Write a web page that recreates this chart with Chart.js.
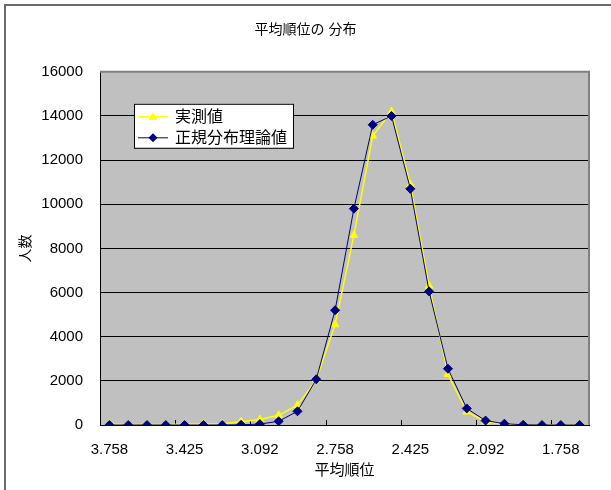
<!DOCTYPE html>
<html>
<head>
<meta charset="utf-8">
<script src="https://cdn.jsdelivr.net/npm/chart.js@4/dist/chart.umd.min.js"></script>
<style>
  html, body { margin: 0; padding: 0; background: #fff; }
  #wrap { width: 611px; height: 490px; }
</style>
</head>
<body>
<div id="wrap"><canvas id="c" width="611" height="490"></canvas></div>
<script>
// Average-rank buckets (category axis, descending)
const categories = ['3.758','3.675','3.592','3.508','3.425','3.342','3.258','3.175','3.092','3.008',
                    '2.925','2.842','2.758','2.675','2.592','2.508','2.425','2.342','2.258','2.175',
                    '2.092','2.008','1.925','1.842','1.758','1.675'];
// Category labels that are printed on the axis
const tickLabels = ['3.758','3.425','3.092','2.758','2.425','2.092','1.758'];

// Observed head counts
const measured = [30, 20, 20, 20, 30, 40, 60, 150, 250, 440, 900, 2050, 4550, 8600, 13100,
                  14200, 10900, 6300, 2300, 600, 150, 30, 10, 0, 0, 0];
// Normal-distribution expectation
const theoretical = [0, 0, 0, 0, 0, 0, 0, 10, 40, 170, 620, 2070, 5200, 9800, 13600,
                     14000, 10700, 6050, 2550, 750, 200, 60, 10, 0, 0, 0];

const seriesNames = ['実測値', '正規分布理論値'];
const chartTitle = '平均順位の 分布';
const xTitle = '平均順位';
const yTitle = '人数';

const FONT = "'Liberation Sans', 'Noto Sans CJK JP', sans-serif";
const tickEvery = 4;

const frame = {
  id: 'frame',
  beforeDraw(chart) {
    const { ctx, chartArea: a } = chart;
    ctx.save();
    ctx.fillStyle = '#ffffff';
    ctx.fillRect(0, 0, chart.width, chart.height);
    ctx.fillStyle = '#c0c0c0';
    ctx.fillRect(a.left, a.top, a.right - a.left, a.bottom - a.top);
    ctx.restore();
  },
  beforeDatasetsDraw(chart) {
    const { ctx, chartArea: a, scales: { x } } = chart;
    ctx.save();
    // grey edge on top and right of the plot area
    ctx.strokeStyle = '#808080';
    ctx.lineWidth = 2;
    ctx.beginPath();
    ctx.moveTo(a.left, a.top);
    ctx.lineTo(a.right, a.top);
    ctx.lineTo(a.right, a.bottom);
    ctx.stroke();
    // short inward tick marks between category groups
    ctx.strokeStyle = '#000';
    ctx.lineWidth = 1;
    for (let i = tickEvery; i < categories.length; i += tickEvery) {
      const px = Math.round((x.getPixelForValue(i - 1) + x.getPixelForValue(i)) / 2) + 0.5;
      ctx.beginPath();
      ctx.moveTo(px, a.bottom);
      ctx.lineTo(px, a.bottom - 5);
      ctx.stroke();
    }
    ctx.restore();
  },
  afterDraw(chart) {
    const { ctx, chartArea: a } = chart;
    ctx.save();
    // legend box inside the plot
    const bx = a.left + 34, by = a.top + 32, bw = 159, bh = 44;
    ctx.fillStyle = '#fff';
    ctx.fillRect(bx, by, bw, bh);
    ctx.strokeStyle = '#000';
    ctx.lineWidth = 1;
    ctx.strokeRect(bx + 0.5, by + 0.5, bw, bh);
    chart.data.datasets.forEach((ds, i) => {
      const cy = by + 13 + i * 21;
      const mx = bx + 19;
      const r = ds.pointRadius;
      ctx.strokeStyle = ds.borderColor;
      ctx.lineWidth = ds.borderWidth;
      ctx.beginPath();
      ctx.moveTo(bx + 4, cy);
      ctx.lineTo(bx + 34, cy);
      ctx.stroke();
      ctx.fillStyle = ds.backgroundColor;
      ctx.beginPath();
      if (ds.pointStyle === 'triangle') {
        ctx.moveTo(mx, cy - r);
        ctx.lineTo(mx + r, cy + r * 0.7);
        ctx.lineTo(mx - r, cy + r * 0.7);
      } else {
        ctx.moveTo(mx, cy - r);
        ctx.lineTo(mx + r, cy);
        ctx.lineTo(mx, cy + r);
        ctx.lineTo(mx - r, cy);
      }
      ctx.closePath();
      ctx.fill();
      ctx.fillStyle = '#000';
      ctx.font = '16px ' + FONT;
      ctx.textBaseline = 'middle';
      ctx.textAlign = 'left';
      ctx.fillText(ds.label, bx + 41, cy + 1);
    });
    // outer chart frame
    ctx.strokeStyle = '#6a6a6a';
    ctx.lineWidth = 2;
    ctx.beginPath();
    ctx.moveTo(5, chart.height);
    ctx.lineTo(5, 5);
    ctx.lineTo(chart.width, 5);
    ctx.stroke();
    ctx.restore();
  }
};

new Chart(document.getElementById('c'), {
  type: 'line',
  data: {
    labels: categories,
    datasets: [
      {
        label: seriesNames[0],
        data: measured,
        borderColor: '#ffff00',
        backgroundColor: '#ffff00',
        borderWidth: 1.5,
        pointStyle: 'triangle',
        pointRadius: 4.5,
        pointBorderWidth: 1,
        tension: 0,
        order: 2
      },
      {
        label: seriesNames[1],
        data: theoretical,
        borderColor: '#000080',
        backgroundColor: '#000080',
        borderWidth: 1,
        pointStyle: 'rectRot',
        pointRadius: 4.5,
        pointBorderWidth: 1,
        tension: 0,
        order: 1
      }
    ]
  },
  options: {
    responsive: false,
    animation: false,
    devicePixelRatio: 1,
    layout: { padding: 0 },
    plugins: {
      legend: { display: false },
      tooltip: { enabled: false },
      title: {
        display: true,
        text: chartTitle,
        color: '#000',
        font: { family: FONT, size: 14, weight: 'normal' },
        padding: { top: 22, bottom: 33 }
      }
    },
    scales: {
      x: {
        type: 'category',
        offset: true,
        grid: { display: false, drawTicks: false },
        border: { display: true, color: '#000', width: 1 },
        ticks: {
          autoSkip: false,
          maxRotation: 0,
          minRotation: 0,
          padding: 16,
          color: '#000',
          font: { family: FONT, size: 15 },
          callback(value) {
            const lab = this.getLabelForValue(value);
            return tickLabels.includes(lab) ? lab : '';
          }
        },
        title: {
          display: true,
          text: xTitle,
          color: '#000',
          font: { family: FONT, size: 15 },
          padding: { top: 0, bottom: 10 }
        },
        afterFit(scale) { scale.height = 65; }
      },
      y: {
        min: 0,
        max: 16000,
        grid: { color: '#000', lineWidth: 1, drawTicks: false },
        border: { display: true, color: '#000', width: 1 },
        ticks: {
          stepSize: 2000,
          padding: 17,
          color: '#000',
          font: { family: FONT, size: 15 },
          callback: v => String(v)
        },
        title: {
          display: true,
          text: yTitle,
          color: '#000',
          font: { family: FONT, size: 14 },
          padding: { top: 18, bottom: 0 }
        },
        afterFit(scale) { scale.width = 100; }
      },
      // empty right-hand margin so the title stays centred on the whole canvas
      margin: {
        type: 'linear',
        position: 'right',
        grid: { display: false, drawTicks: false },
        border: { display: false },
        ticks: { display: false },
        afterFit(scale) { scale.width = 22; }
      }
    }
  },
  plugins: [frame]
});
</script>
</body>
</html>
